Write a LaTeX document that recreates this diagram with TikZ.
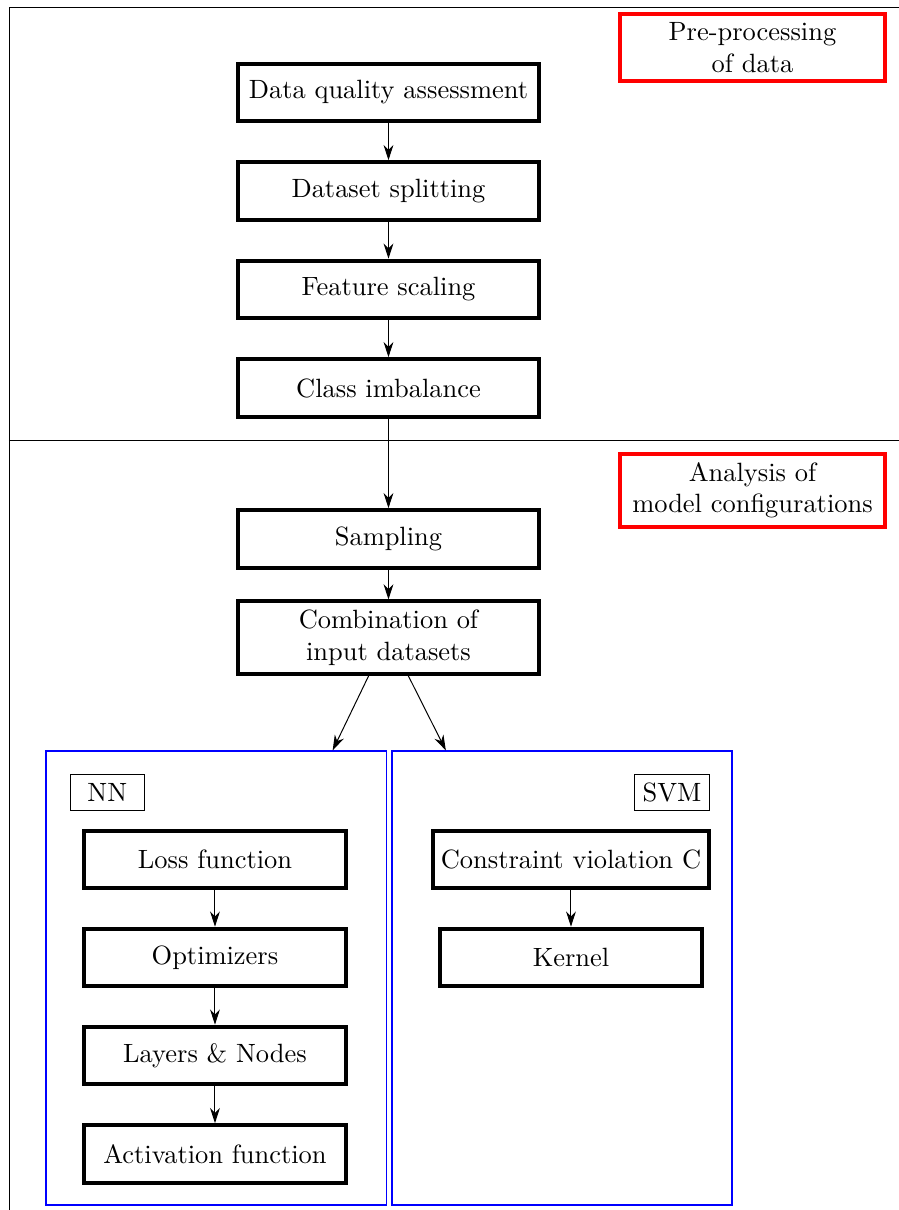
\documentclass[tikz,border=0pt]{standalone}
\usepackage{amsmath}
\usepackage{amssymb}
\usepackage{tikz}
\usetikzlibrary{calc,arrows.meta}

\begin{document}
\begin{tikzpicture}[
    >={Stealth[length=6.2pt, width=4pt, inset=2pt]},
    every node/.style={font=\fontsize{10.7}{12.9}\selectfont},
    stepbox/.style={draw, ultra thick, align=center, minimum width=4.28cm, minimum height=0.82cm},
    modelbox/.style={draw, ultra thick, align=center, minimum width=3.73cm, minimum height=0.82cm},
    phasebox/.style={draw=red, ultra thick, align=center, minimum width=3.76cm},
    panel/.style={draw=blue, line width=0.5pt, minimum height=6.458cm},
    tagbox/.style={draw, thin, minimum width=1.05cm, minimum height=0.5cm}
]

\useasboundingbox (0,0) rectangle (12.788,-17.212);

% ---- Coordinates ----
\coordinate (TL) at (0.128,-0.107);    % frame corner
\coordinate (TR) at (12.788,-0.107);
\coordinate (BL) at (0.128,-17.212);
\coordinate (DL) at (0.128,-6.266);    % divider
\coordinate (DR) at (12.788,-6.266);

% ---- Frame ----
\draw (TR) -- (TL) -- (BL);
\draw (DL) -- (DR);

% ---- Phase labels ----
\node[phasebox] (pre) at (10.704,-0.680) {Pre-processing\\of data};
\node[phasebox] (ana) at (10.704,-6.974) {Analysis of\\model configurations};

% ---- Pre-processing steps ----
\node[stepbox] (dqa) at (5.526,-1.316) {Data quality assessment};
\node[stepbox] (split) at (5.526,-2.717) {Dataset splitting};
\node[stepbox] (scale) at (5.526,-4.118) {Feature scaling};
\node[stepbox] (imb) at (5.526,-5.519) {Class imbalance};

% ---- Analysis steps ----
\node[stepbox] (samp) at (5.526,-7.667) {Sampling};
\node[stepbox] (comb) at (5.526,-9.068) {Combination of\\input datasets};

% ---- Model panels ----
\node[panel, minimum width=4.844cm] (nnpanel) at (3.076,-13.912) {};
\node[panel, minimum width=4.836cm] (svmpanel) at (7.994,-13.912) {};

\node[tagbox] (nn) at (1.526,-11.273) {NN};
\node[tagbox] (svm) at (9.559,-11.273) {SVM};

% ---- NN steps ----
\node[modelbox] (loss) at (3.058,-12.226) {Loss function};
\node[modelbox] (opt) at (3.058,-13.620) {Optimizers};
\node[modelbox] (lay) at (3.058,-15.014) {Layers \& Nodes};
\node[modelbox] (act) at (3.058,-16.415) {Activation function};

% ---- SVM steps ----
\node[modelbox] (cvc) at (8.122,-12.226) {Constraint violation C};
\node[modelbox] (kern) at (8.122,-13.620) {Kernel};

% ---- Arrows ----
\draw[->] (dqa) -- (split);
\draw[->] (split) -- (scale);
\draw[->] (scale) -- (imb);
\draw[->] (imb) -- (samp);
\draw[->] (samp) -- (comb);

\draw[->] ([xshift=-0.28cm]comb.south) -- ([xshift=-0.775cm]nnpanel.north east);
\draw[->] ([xshift=0.28cm]comb.south) -- ([xshift=0.775cm]svmpanel.north west);

\draw[->] (loss) -- (opt);
\draw[->] (opt) -- (lay);
\draw[->] (lay) -- (act);

\draw[->] (cvc) -- (kern);

\end{tikzpicture}
\end{document}
